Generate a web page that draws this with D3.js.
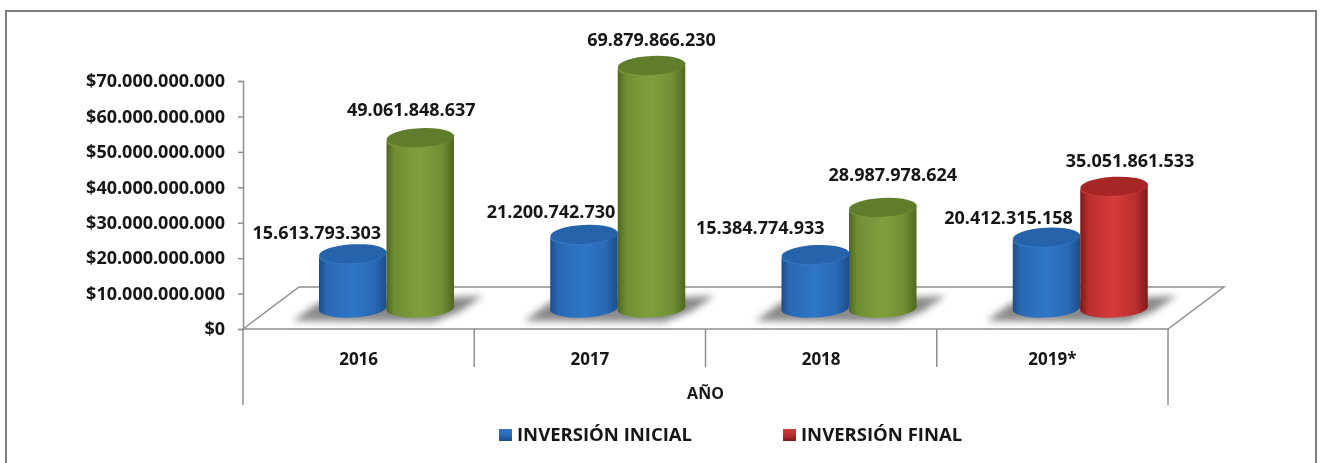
<!DOCTYPE html>
<html><head><meta charset="utf-8">
<script src="https://cdn.jsdelivr.net/npm/d3@7/dist/d3.min.js"></script>
<style>html,body{margin:0;padding:0;background:#fff}svg{display:block}
text{font-family:"Open Sans",sans-serif;font-weight:700;fill:#161616}</style></head>
<body><div id="c"></div>
<script>
const years = ["2016","2017","2018","2019*"];
const inversionInicial = [15613793303,21200742730,15384774933,20412315158];
const inversionFinal = [49061848637,69879866230,28987978624,35051861533];
const finalPalette = ["green","green","green","red"];
const yTicks = [0,1e10,2e10,3e10,4e10,5e10,6e10,7e10];
const legendLabels = ["INVERSIÓN INICIAL","INVERSIÓN FINAL"];
const axisTitle = "AÑO";
// label nudges (px) relative to the top of each cylinder, as placed in the original
const nudgeInicial = [[-36,-21],[-33,-23],[-55,-27],[-38,-19]];
const nudgeFinal = [[-9,-28],[0,-26],[10,-33],[16,-26]];

const W=1320,H=463;
const svg=d3.select("#c").append("svg").attr("width",W).attr("height",H);
const defs=svg.append("defs");
const palettes={
 blue:{e:"#1d4c88",m:"#2a69b4",l:"#2f76c8",cap:"#2663ab",rim:"#3a7cc6"},
 green:{e:"#4d6620",m:"#6f8f33",l:"#7f9f3e",cap:"#5f7d2a",rim:"#7d9c3c"},
 red:{e:"#7d1a1a",m:"#b92e2e",l:"#d53b3b",cap:"#a82626",rim:"#cf3a3a"}
};
Object.entries(palettes).forEach(([k,p])=>{
 const g=defs.append("linearGradient").attr("id","body-"+k).attr("x1",0).attr("x2",1).attr("y1",0).attr("y2",0);
 [[0,p.e],[.12,p.m],[.5,p.l],[.82,p.m],[1,p.e]].forEach(s=>g.append("stop").attr("offset",s[0]).attr("stop-color",s[1]));
 const m=defs.append("linearGradient").attr("id","mark-"+k).attr("x1",0).attr("x2",0).attr("y1",0).attr("y2",1);
 [[0,p.l],[.5,p.m],[1,p.e]].forEach(s=>m.append("stop").attr("offset",s[0]).attr("stop-color",s[1]));
});
defs.append("filter").attr("id","blur").attr("x","-20%").attr("y","-50%").attr("width","140%").attr("height","200%")
 .append("feGaussianBlur").attr("stdDeviation",3.5);
defs.append("filter").attr("id","soft").attr("filterUnits","userSpaceOnUse").attr("x",0).attr("y",0).attr("width",W).attr("height",H)
 .append("feGaussianBlur").attr("stdDeviation",0.35);

const grey="#8f8f8f";
const plotL=243,plotR=1168,y0=329,yTop=81,dx3=56,dy3=42;
const y=d3.scaleLinear().domain([0,7e10]).range([y0,yTop]);
// cylinders stand in the middle of the floor, so they use a foreshortened scale
const yBar=d3.scaleLinear().domain([0,7e10]).range([308,65]);
const x=d3.scaleBand().domain(years).range([plotL,plotR]);
const sub=d3.scaleBand().domain(["i","f"]).range([76,211]);

svg.append("rect").attr("x",6).attr("y",11).attr("width",1310).attr("height",470)
 .attr("fill","#fff").attr("stroke","#808080").attr("stroke-width",2);

const root=svg.append("g").attr("filter","url(#soft)");

// floor
root.append("path").attr("fill","none").attr("stroke",grey).attr("stroke-width",1.5)
 .attr("d",d3.line()([[plotL,y0],[plotL+dx3,y0-dy3],[plotR+dx3,y0-dy3],[plotR,y0],[plotL,y0]]));

// y axis
const fmt=d3.formatLocale({decimal:",",thousands:".",grouping:[3],currency:["$",""]}).format("$,");
const ya=root.append("g").attr("transform",`translate(${plotL},0)`)
 .call(d3.axisLeft(y).tickValues(yTicks).tickFormat(fmt).tickSize(5).tickPadding(13));
ya.selectAll("line,path").attr("stroke",grey).attr("stroke-width",1.5);
ya.selectAll("text").attr("font-size",18).style("font-family",'"Open Sans",sans-serif').style("font-weight",700);

// multi-level category axis
const seps=years.map(d=>x(d)).concat(plotR);
root.selectAll(".sep").data(seps).join("line").attr("x1",d=>d).attr("x2",d=>d)
 .attr("y1",y0).attr("y2",(d,i)=>(i==0||i==seps.length-1)?405:367)
 .attr("stroke",grey).attr("stroke-width",1.5);
root.selectAll(".yr").data(years).join("text").attr("x",d=>x(d)+x.bandwidth()/2).attr("y",359)
 .attr("dy","0.35em").attr("text-anchor","middle").attr("font-size",17).text(d=>d);
root.append("text").attr("x",(plotL+plotR)/2).attr("y",393).attr("dy","0.35em").attr("text-anchor","middle")
 .attr("font-size",16).text(axisTitle);

// shadows
root.selectAll(".shadow").data(years).join("path").attr("fill","#747474").attr("opacity",.85).attr("filter","url(#blur)")
 .attr("d",d=>{const a=x(d);return d3.line()([[a+50,321],[a+76,302],[a+240,296],[a+216,312],[a+190,322]]);});

// cylinders
const rows=years.flatMap((d,i)=>[
 {yr:d,k:"i",v:inversionInicial[i],c:"blue",n:nudgeInicial[i]},
 {yr:d,k:"f",v:inversionFinal[i],c:finalPalette[i],n:nudgeFinal[i]}]);
const tiltRot=-3, tilt=3;
const rows2=rows.map(r=>{const rx=sub.bandwidth()/2;return {...r,rx,cx:x(r.yr)+sub(r.k)+rx,top:yBar(r.v),ry:9.5};});
const base=yBar(0);
const cyl=root.selectAll(".cyl").data(rows2).join("g");
cyl.append("path").attr("fill",d=>`url(#body-${d.c})`)
 .attr("d",d=>`M${d.cx-d.rx},${d.top+tilt}L${d.cx-d.rx},${base+tilt}A${d.rx},${d.ry} ${tiltRot} 0 0 ${d.cx+d.rx},${base-tilt}L${d.cx+d.rx},${d.top-tilt}Z`);
cyl.append("path").attr("fill","none").attr("stroke",d=>palettes[d.c].rim).attr("stroke-width",2.5)
 .attr("d",d=>`M${d.cx-d.rx+1},${d.top+tilt+1}A${d.rx},${d.ry} ${tiltRot} 0 0 ${d.cx+d.rx-1},${d.top-tilt+1}`);
cyl.append("ellipse").attr("cx",d=>d.cx).attr("cy",d=>d.top).attr("rx",d=>d.rx).attr("ry",d=>d.ry)
 .attr("transform",d=>`rotate(${tiltRot} ${d.cx} ${d.top})`).attr("fill",d=>palettes[d.c].cap);

// value labels
const fmtLab=d3.formatLocale({decimal:",",thousands:".",grouping:[3],currency:["",""]}).format(",");
root.selectAll(".lab").data(rows2).join("text").attr("text-anchor","middle").attr("dy","0.35em")
 .attr("font-size",18).attr("x",d=>d.cx+d.n[0]).attr("y",d=>d.top+d.n[1]).text(d=>fmtLab(d.v));

// legend
const legX=d3.scaleOrdinal().domain(legendLabels).range([499,783]);
const legC=d3.scaleOrdinal().domain(legendLabels).range(["blue","red"]);
const leg=root.selectAll(".leg").data(legendLabels).join("g").attr("transform",d=>`translate(${legX(d)},435)`);
leg.append("rect").attr("x",0).attr("y",-6).attr("width",13).attr("height",12).attr("fill",d=>`url(#mark-${legC(d)})`);
leg.append("text").attr("x",18).attr("dy","0.35em").attr("font-size",18.5).text(d=>d);
</script></body></html>
